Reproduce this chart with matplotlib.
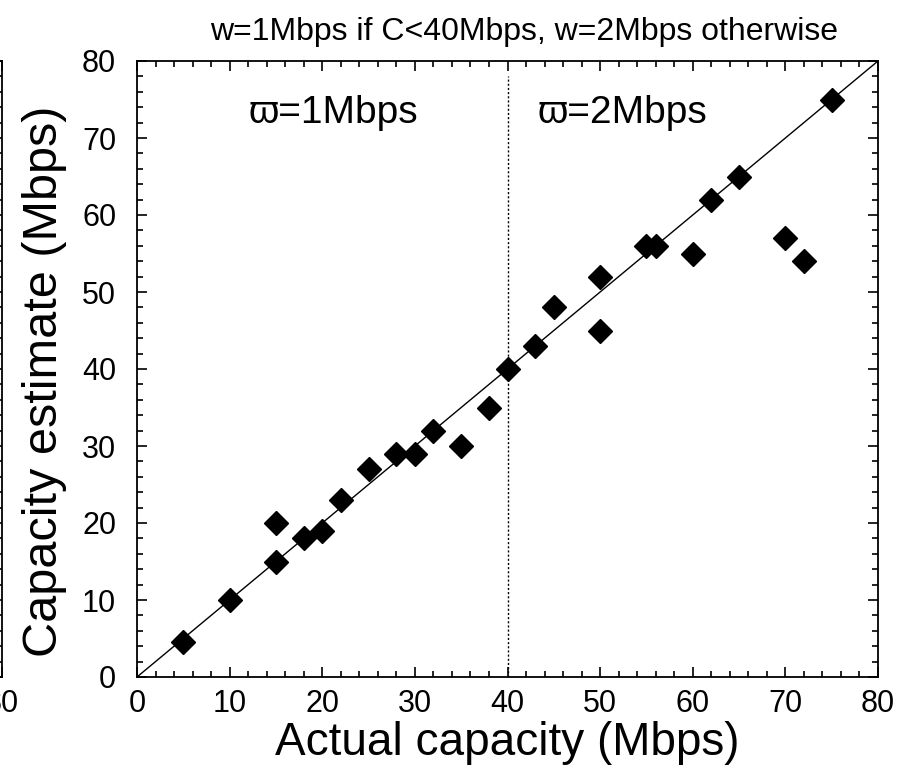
import matplotlib
matplotlib.use("Agg")
import matplotlib.pyplot as plt
from matplotlib.ticker import MultipleLocator

plt.rcParams['font.family'] = ['Liberation Sans', 'DejaVu Sans']

actual = [5, 10, 15, 15, 18, 20, 22, 25, 28, 30, 32, 35, 38, 40, 43, 45,
          50, 50, 55, 56, 60, 62, 65, 70, 72, 75]
estimate = [4.5, 10, 15, 20, 18, 19, 23, 27, 29, 29, 32, 30, 35, 40, 43, 48,
            52, 45, 56, 56, 55, 62, 65, 57, 54, 75]
ticks = [0, 10, 20, 30, 40, 50, 60, 70, 80]
title = "w=1Mbps if C<40Mbps, w=2Mbps otherwise"
xlabel = "Actual capacity (Mbps)"
ylabel = "Capacity estimate (Mbps)"
split = 40
label_left = "\u03d6=1Mbps"
label_right = "\u03d6=2Mbps"

W, H = 912, 771
fig = plt.figure(figsize=(W / 100, H / 100), dpi=100)

def style(ax):
    ax.set_xlim(0, 80)
    ax.set_ylim(0, 80)
    ax.set_xticks(ticks)
    ax.set_yticks(ticks)
    ax.xaxis.set_minor_locator(MultipleLocator(2))
    ax.yaxis.set_minor_locator(MultipleLocator(2))
    ax.tick_params(which='both', direction='in', top=True, right=True,
                   labelsize=22, width=1.2, colors='black')
    ax.tick_params(which='major', length=7)
    ax.tick_params(which='minor', length=4)
    ax.tick_params(axis='x', which='major', pad=9)
    ax.tick_params(axis='y', which='major', pad=15)
    for s in ax.spines.values():
        s.set_linewidth(1.3)

# cropped neighbouring panel at the far left (only its right edge is visible)
l, r, t, b = 137, 878, 61, 677
pw = r - l
ax0 = fig.add_axes([(2 - pw) / W, (H - b) / H, pw / W, (b - t) / H])
style(ax0)
ax0.set_yticklabels([])
ax0.set_xticklabels([''] * (len(ticks) - 1) + [str(ticks[-1])])

ax = fig.add_axes([l / W, (H - b) / H, pw / W, (b - t) / H])
style(ax)
ax.plot([0, 80], [0, 80], color='black', lw=1.0)
ax.plot([split, split], [0, 78], color='black', lw=1.0, ls=(0, (1.5, 1.5)))
ax.plot(actual, estimate, ls='none', marker='D', ms=12, color='black')
ax.text(12.0, 73.2, label_left, fontsize=28, ha='left', va='center')
ax.text(43.2, 73.2, label_right, fontsize=28, ha='left', va='center')
ax.set_xlabel(xlabel, fontsize=33)
ax.xaxis.set_label_coords(0.5, -0.072)
ax.set_ylabel(ylabel, fontsize=35)
ax.yaxis.set_label_coords(-0.095, 0.48)
fig.text(524 / W, 1 - 32 / H, title, fontsize=23, ha='center', va='center',
         family=['Liberation Sans Narrow', 'Liberation Sans'])

fig.savefig("out.png", dpi=100)
